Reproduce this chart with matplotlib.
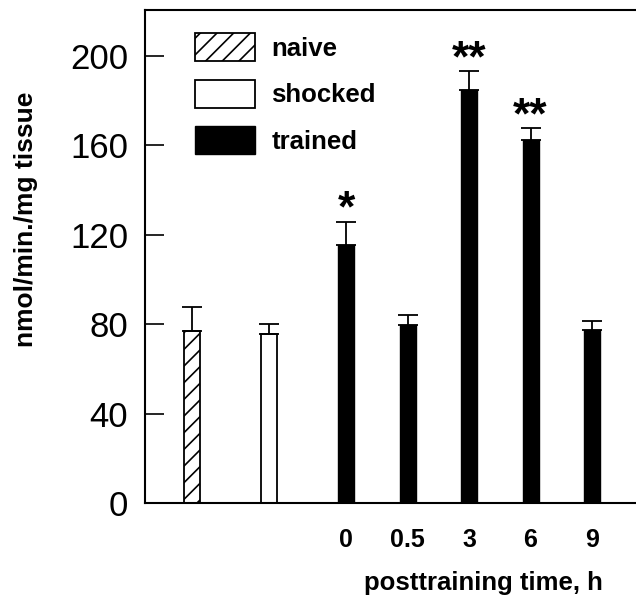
import matplotlib
matplotlib.use("Agg")
import matplotlib.pyplot as plt

# data
groups = ["naive", "shocked", "trained"]
naive_mean, naive_err = 77.0, 10.5
shocked_mean, shocked_err = 75.4, 4.7
trained_times = ["0", "0.5", "3", "6", "9"]
trained_means = [115.3, 79.6, 184.6, 162.2, 77.3]
trained_errs = [10.4, 4.6, 8.6, 5.5, 4.2]
trained_sig = ["*", "", "**", "**", ""]
yticks = [0, 40, 80, 120, 160, 200]

# layout positions
x_naive = 0.0
x_shocked = 1.25
x_trained = [2.5, 3.5, 4.5, 5.5, 6.5]
bw = 0.26

plt.rcParams['font.family'] = ['Liberation Sans', 'DejaVu Sans']
plt.rcParams['hatch.linewidth'] = 1.2

fig = plt.figure(figsize=(6.36, 6.04), dpi=100)
ax = fig.add_axes([145/636, 101/604, 491/636, 493/604])

ekw = dict(ecolor='black', elinewidth=1.3, capsize=7.5, capthick=1.3)
ax.bar(x_naive, naive_mean, bw, color='white', edgecolor='black', hatch='//',
       linewidth=1.3, label=groups[0],
       yerr=[[0], [naive_err]], error_kw=ekw)
ax.bar(x_shocked, shocked_mean, bw, color='white', edgecolor='black',
       linewidth=1.3, label=groups[1],
       yerr=[[0], [shocked_err]], error_kw=ekw)
ax.bar(x_trained, trained_means, bw, color='black', edgecolor='black',
       linewidth=1.0, label=groups[2],
       yerr=[[0]*len(trained_errs), trained_errs], error_kw=ekw)

for x, m, e, s in zip(x_trained, trained_means, trained_errs, trained_sig):
    if s:
        ax.text(x, m + e - 4, s, ha='center', va='bottom', fontsize=32,
                fontweight='bold')

ax.set_xlim(-0.768, 7.215)
ax.set_ylim(0, 220.5)
ax.set_yticks(yticks)
ax.set_yticklabels([str(v) for v in yticks], fontsize=25)
ax.set_xticks(x_trained)
ax.set_xticklabels(trained_times, fontsize=18, fontweight='bold')
ax.tick_params(axis='y', direction='in', length=14, width=1.2, pad=12)
ax.tick_params(axis='x', length=0, pad=18)
ax.spines['right'].set_visible(False)
for sp in ['left', 'top', 'bottom']:
    ax.spines[sp].set_linewidth(1.5)

ax.set_ylabel("nmol/min./mg tissue", fontsize=19, fontweight='bold')
ax.yaxis.set_label_coords(-0.218, 0.576)
ax.set_xlabel("posttraining time, h", fontsize=18.5, fontweight='bold')
ax.xaxis.set_label_coords((483-145)/491, -0.138)

leg = ax.legend(loc='upper left', bbox_to_anchor=(0.101, 0.953), frameon=False,
                prop=dict(size=18.5, weight='bold'), handlelength=2.36,
                handleheight=1.3, handletextpad=0.62, labelspacing=0.72,
                borderaxespad=0, borderpad=0)

fig.savefig("out.png", dpi=100)
